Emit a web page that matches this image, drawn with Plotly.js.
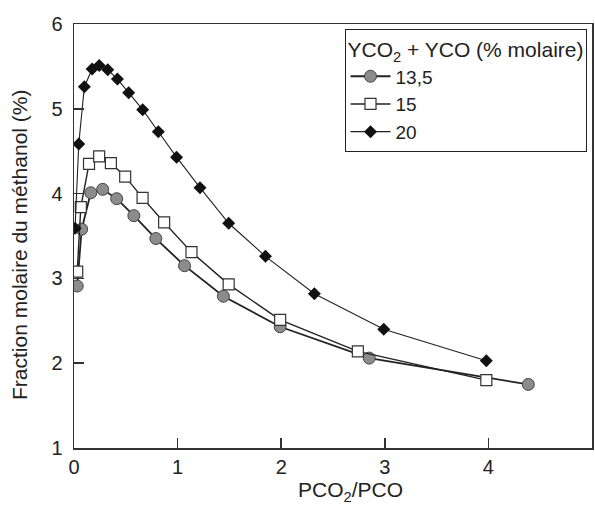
<!DOCTYPE html>
<html>
<head>
<meta charset="utf-8">
<script src="https://cdn.plot.ly/plotly-3.0.1.min.js"></script>
<style>html,body{margin:0;padding:0;background:#fff;}#chart{width:595px;height:505px;}</style>
</head>
<body>
<div id="chart"></div>
<script>
// Series 13,5 (% molaire)
const x135 = [0.031, 0.074, 0.162, 0.277, 0.412, 0.578, 0.79, 1.067, 1.442, 1.99, 2.85, 4.385];
const y135 = [2.91, 3.58, 4.01, 4.05, 3.94, 3.74, 3.47, 3.15, 2.79, 2.43, 2.06, 1.75];
// Series 15
const x15 = [0.031, 0.066, 0.145, 0.243, 0.356, 0.494, 0.662, 0.870, 1.134, 1.493, 1.99, 2.74, 3.98];
const y15 = [3.08, 3.84, 4.35, 4.44, 4.36, 4.20, 3.95, 3.66, 3.31, 2.93, 2.51, 2.14, 1.80];
// Series 20
const x20 = [0.01, 0.046, 0.10, 0.175, 0.243, 0.326, 0.419, 0.528, 0.663, 0.814, 0.99, 1.216, 1.493, 1.848, 2.32, 2.99, 3.98];
const y20 = [3.59, 4.585, 5.26, 5.47, 5.51, 5.46, 5.35, 5.19, 4.99, 4.73, 4.43, 4.07, 3.65, 3.26, 2.82, 2.40, 2.03];
const seriesNames = ['13,5', '15', '20'];
const xTicks = [0, 1, 2, 3, 4, 5];
const yTicks = [1, 2, 3, 4, 5, 6];

const font = 'Liberation Sans, Arial, sans-serif';
const traces = [
  {x: x135, y: y135, name: seriesNames[0], mode: 'lines+markers',
   line: {color: '#222', width: 1.8},
   marker: {symbol: 'circle', size: 12, color: '#8c8c8c', line: {color: '#444', width: 1}}},
  {x: x15, y: y15, name: seriesNames[1], mode: 'lines+markers',
   line: {color: '#222', width: 1.4},
   marker: {symbol: 'square', size: 11, color: '#fff', line: {color: '#333', width: 1.2}}},
  {x: x20, y: y20, name: seriesNames[2], mode: 'lines+markers',
   line: {color: '#222', width: 1.1},
   marker: {symbol: 'diamond', size: 10, color: '#111', line: {color: '#111', width: 0}}}
];

const layout = {
  width: 595, height: 505,
  margin: {l: 73.5, r: 2.5, t: 24, b: 57},
  paper_bgcolor: '#fff', plot_bgcolor: '#fff',
  font: {family: font, size: 20, color: '#222'},
  showlegend: true,
  legend: {
    x: 0.9894, xanchor: 'right', y: 0.988, yanchor: 'top',
    bordercolor: '#222', borderwidth: 1, bgcolor: '#fff',
    font: {family: font, size: 19, color: '#222'},
    title: {text: 'YCO<sub>2</sub> + YCO (% molaire)', side: 'top center', font: {family: font, size: 21, color: '#222'}},
    itemwidth: 40, tracegroupgap: 0
  },
  xaxis: {
    range: [0, 5], tickvals: xTicks, ticktext: xTicks.map(String),
    showgrid: false, zeroline: false, showline: true, mirror: true,
    linecolor: '#333', linewidth: 1.5, ticks: 'inside', ticklen: 10, tickwidth: 1.5, tickcolor: '#333',
    tickfont: {family: font, size: 20, color: '#222'},
    title: {text: '&nbsp;&nbsp;&nbsp;&nbsp;&nbsp;&nbsp;PCO<sub>2</sub>/PCO', font: {family: font, size: 21, color: '#222'}, standoff: 6}
  },
  yaxis: {
    range: [1, 6], tickvals: yTicks, ticktext: yTicks.map(String),
    showgrid: false, zeroline: false, showline: true, mirror: true,
    linecolor: '#333', linewidth: 1.5, ticks: 'inside', ticklen: 10, tickwidth: 1.5, tickcolor: '#333',
    tickfont: {family: font, size: 20, color: '#222'}, ticklabelstandoff: 6,
    title: {text: 'Fraction molaire du méthanol (%)&nbsp;&nbsp;&nbsp;', font: {family: font, size: 21, color: '#222'}, standoff: 18}
  }
};

Plotly.newPlot('chart', traces, layout, {displayModeBar: false, staticPlot: true});
</script>
</body>
</html>
